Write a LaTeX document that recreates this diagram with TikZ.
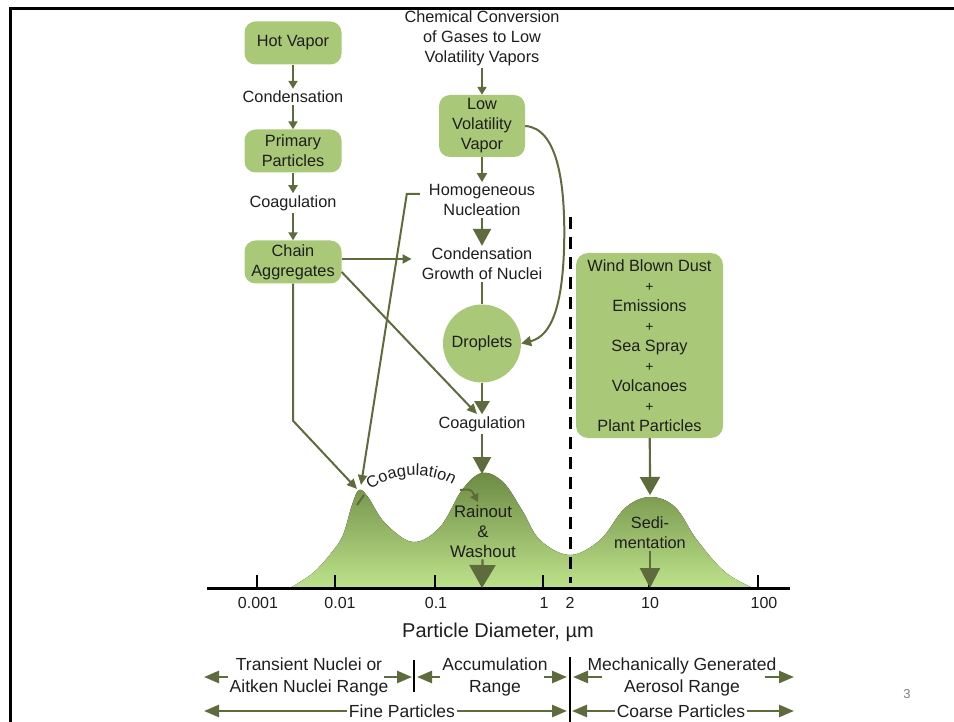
\documentclass[tikz,border=0pt]{standalone}
\usepackage{fontspec}
\setmainfont{Liberation Sans}
\usepackage{tikz}
\usetikzlibrary{arrows.meta,positioning,decorations.text,calc}
\definecolor{olivedark}{HTML}{5E6B3D}
\definecolor{boxgreen}{HTML}{A9C979}
\definecolor{peakdark}{HTML}{6C8A43}
\definecolor{peaklight}{HTML}{BDE28B}
\definecolor{ink}{HTML}{1E1E1E}
\newcommand{\plusrow}{{\fontsize{14}{20}\selectfont +}}

\begin{document}
\begin{tikzpicture}[
  x=1pt,y=-1pt,
  font=\fontsize{16.3}{20}\selectfont,
  text=ink,
  stage/.style={fill=boxgreen,rounded corners=11pt,align=center,
    minimum width=97pt,minimum height=43pt,inner sep=2pt},
  lbl/.style={align=center,inner sep=2pt},
  rnglbl/.style={align=center,inner sep=2pt,font=\fontsize{17.5}{22}\selectfont},
  ticklbl/.style={inner sep=1pt,font=\fontsize{16}{18}\selectfont},
  arr/.style={-{Triangle[length=8pt,width=9pt]},line width=2pt,draw=olivedark},
  bigarr/.style={-{Triangle[length=17pt,width=18pt]},line width=2.2pt,draw=olivedark},
  rng/.style={-{Triangle[length=15pt,width=12pt]},line width=2.6pt,draw=olivedark},
  rangebar/.style={line width=2.4pt,draw=black}
]
\useasboundingbox (0,0) rectangle (954,722);
\draw[line width=3pt] (10.5,722) -- (10.5,8.5) -- (954,8.5);

\fill[top color=peakdark,bottom color=peaklight]
  plot[smooth,tension=0.6] coordinates {(290,588) (313,573) (332,552) (343,535)
    (352,505) (359,490) (368,497) (385,523) (413,542) (440,527) (462,490)
    (482,473) (503,482) (522,510) (540,540) (570,555) (600,540) (625,508)
    (650,497) (675,507) (697,540) (725,572) (753,588)} -- cycle;
\node[rotate=-50,text=white,opacity=0.75,font=\fontsize{10}{12}\selectfont] (mark) at (714,551) {©dwane paulsen};
\draw[line width=3pt,dash pattern=on 12pt off 8pt] (570,217) -- (570,583);

\draw[line width=3pt] (207,588) -- (790,588);
\foreach \xpos in {257,335,435,543,649,758}
  \draw[line width=2.5pt] (\xpos,589) -- (\xpos,575);
\foreach \xpos/\val [count=\i] in {258/0.001,340/0.01,436/0.1,544/1,570/2,650/10,764/100}
  \node[ticklbl] (tick\i) at (\xpos,603) {\val};
\node[font=\fontsize{20}{24}\selectfont] (axistitle) at (498,632) {Particle Diameter, µm};

\coordinate (peakL) at (357,489);
\coordinate (peakLb) at (361,485);
\coordinate (peakM) at (482,474);
\coordinate (peakR) at (650,495);
\coordinate (axisM) at (482,588);
\coordinate (axisR) at (650,588);
\coordinate (coagTip) at (477,414);

\node[stage] (hot) at (293,43) {Hot Vapor};
\node[lbl] (cond) at (293,97) {Condensation};
\node[stage] (prim) at (293,151) {Primary\\Particles};
\node[lbl] (coagA) at (293,203) {Coagulation};
\node[stage] (chain) at (293,262) {Chain\\Aggregates};
\draw[arr] (hot) -- (cond);
\draw[arr] (cond) -- (prim);
\draw[arr] (prim) -- (coagA);
\draw[arr] (coagA) -- (chain);

\node[lbl] (chem) at (482,38) {Chemical Conversion\\of Gases to Low\\Volatility Vapors};
\node[stage,minimum width=86pt,minimum height=62pt] (lowvol) at (482,126) {Low\\Volatility\\Vapor};
\node[lbl] (homog) at (482,200) {Homogeneous\\Nucleation};
\node[lbl] (growth) at (482,264) {Condensation\\Growth of Nuclei};
\node[circle,fill=boxgreen,minimum size=78pt,inner sep=0pt] (drop) at (482,343.5) {Droplets};
\node[lbl] (coagB) at (482,424) {Coagulation};
\node[lbl,font=\fontsize{16.8}{20}\selectfont] (wash) at (483,531) {Rainout\\\&\\Washout};
\draw[arr] (chem) -- (lowvol);
\draw[arr,-{Triangle[length=9pt,width=10pt]}] (lowvol) -- (homog);
\draw[bigarr] (homog) -- (growth);
\draw[line width=2.2pt,draw=olivedark] (growth) -- (drop);
\draw[bigarr,-{Triangle[length=13pt,width=15pt]}] (drop) -- (coagB);
\draw[bigarr] (coagB) -- (peakM);
\draw[bigarr,-{Triangle[length=23pt,width=26pt]}] (wash) -- (axisM);
\draw[arr,-{Triangle[length=10pt,width=10pt]}] (lowvol.east) .. controls (558,128) and (566,185) .. (564,250)
  .. controls (562,305) and (552,336) .. (drop.east);

\draw[arr,-{Triangle[length=10pt,width=9pt]}] ([xshift=-7pt,yshift=6pt]homog.west) -- ++(-13,0) -- (peakLb);
\draw[arr,-{Triangle[length=9pt,width=9pt]}] ([yshift=3pt]chain.east) -- ([xshift=-8pt,yshift=3pt]chain.east -| growth.west);
\draw[arr,-{Triangle[length=10pt,width=9pt]}] ([yshift=-10pt]chain.east) -- (coagTip);
\draw[arr,-{Triangle[length=10pt,width=9pt]}] (chain.south) -- ++(0,137) -- (peakL);

\coordinate (arcS0) at (357,505);
\coordinate (arcS) at (364,495);
\coordinate (arcE) at (460,490);
\coordinate (arcTip) at (478,502);
\draw[line width=2pt,draw=olivedark] (arcS0) -- (arcS);
\path[decorate,decoration={text along path,text color=ink,text align=center,
  text={|\fontsize{16.3}{20}\selectfont|Coagulation}}] (arcS) .. controls (388,470) and (436,470) .. (arcE);
\draw[arr] (arcE) .. controls (471,489) .. (arcTip);

\node[stage,minimum width=147pt,minimum height=185pt,rounded corners=12pt] (wind) at (649.5,345.5)
  {Wind Blown Dust\\\plusrow\\Emissions\\\plusrow\\Sea Spray\\\plusrow\\Volcanoes\\\plusrow\\Plant Particles};
\node[lbl] (sedi) at (650,533) {Sedi-\\mentation};
\draw[bigarr,-{Triangle[length=18pt,width=20pt]}] (wind) -- (peakR);
\draw[bigarr,-{Triangle[length=20pt,width=20pt]}] (sedi) -- (axisR);

\node[rnglbl] (trans) at (309,677) {Transient Nuclei or\\Aitken Nuclei Range};
\node[rnglbl] (accum) at (495,677) {Accumulation\\Range};
\node[rnglbl] (mech) at (682,677) {Mechanically Generated\\Aerosol Range};
\node[rnglbl] (fine) at (402,711) {Fine Particles};
\node[rnglbl] (coarse) at (681,711) {Coarse Particles};
\coordinate (trL) at (204,677);
\coordinate (trR) at (412,677);
\coordinate (acL) at (417,677);
\coordinate (acR) at (567,677);
\coordinate (meL) at (573,677);
\coordinate (meR) at (794,677);
\coordinate (finL) at (204,711);
\coordinate (finR) at (567,711);
\coordinate (coaL) at (572,711);
\coordinate (coaR) at (794,711);
\draw[rng] (trans.west) -- (trL);
\draw[rng] ([xshift=-6pt]trans.east) -- (trR);
\draw[rng] (accum.west) -- (acL);
\draw[rng] ([xshift=-6pt]accum.east) -- (acR);
\draw[rng] ([xshift=17pt]mech.west) -- (meL);
\draw[rng] ([xshift=-14pt]mech.east) -- (meR);
\draw[rng] (fine.west) -- (finL);
\draw[rng] (fine.east) -- (finR);
\draw[rng] (coarse.west) -- (coaL);
\draw[rng] (coarse.east) -- (coaR);
\draw[rangebar] (414,660) -- (414,692);
\draw[rangebar] (570,657) -- (570,722);

\node[text=gray,font=\fontsize{13}{15}\selectfont] (pagenum) at (907,694) {3};
\end{tikzpicture}
\end{document}
